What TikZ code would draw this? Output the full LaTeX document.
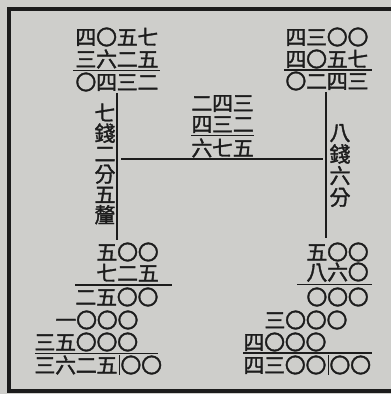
\documentclass[tikz,border=0pt]{standalone}
\usepackage{fontspec}
\usepackage{tikz}
\newfontfamily\cjk[FakeBold=1.6,LetterSpace=-1.5]{Noto Sans CJK TC}
\definecolor{paper}{RGB}{206,206,203}
\definecolor{ink}{RGB}{28,28,28}
\tikzset{
  num/.style={anchor=west, inner sep=0pt, text height=8.2pt, text depth=0.2pt,
    font=\cjk\fontsize{10.5}{10.5}\selectfont, text=ink},
  vtext/.style={inner sep=0pt, align=center, text=ink},
  rule/.style={draw=ink, line width=0.8pt},
  mainline/.style={draw=ink, line width=1pt},
  frame/.style={draw=ink, line width=1.6pt},
}

\begin{document}
\begin{tikzpicture}[x=0.5pt, y=-0.5pt]
  \fill[paper] (0,0) rectangle (391,394);
  \useasboundingbox (0,0) rectangle (391,394);
  % frame (right side cut off)
  \draw[frame] (391,9) -- (9,9) -- (9,391) -- (391,391);
  % number rows
  \foreach \nm/\cx/\cy/\txt in {
      ta/75/37/四〇五七, tb/75/59/三六二五, tc/75/82/〇四三二,
      ua/285/37/四三〇〇, ub/285/59/四〇五七, uc/285/81/〇二四三,
      ma/191/103/二四三, mb/191/124/四三二, mc/191/148/六七五,
      ba/96/252/五〇〇, bb/96/273/七二五, bc/75/297/二五〇〇,
      bd/55/320/一〇〇〇, be/34/342/三五〇〇〇,
      bf/34/365/三六二五, bg/120/365/〇〇,
      ca/306/252/五〇〇, cb/306/272/八六〇, cc/306/297/〇〇〇,
      cd/264/320/三〇〇〇, ce/243/342/四〇〇〇,
      cf/243/365/四三〇〇, cg/329/365/〇〇}{
    \node[num] (\nm) at (\cx,\cy) {\txt};
  }
  % vertical labels
  \node[vtext, font=\cjk\fontsize{10.5}{10.2}\selectfont] (left) at (105,164)
    {七\\錢\\二\\分\\五\\釐};
  \node[vtext, font=\cjk\fontsize{10.5}{10.8}\selectfont] (right) at (340,165.5)
    {八\\錢\\六\\分};
  % main lines
  \coordinate (lt) at (117,93);
  \coordinate (lb) at (117,240);
  \coordinate (rt) at (326,92);
  \coordinate (rb) at (326,238);
  \coordinate (hl) at (117,159);
  \coordinate (hr) at (326,159);
  \draw[mainline] (lt) -- (lb);
  \draw[mainline] (rt) -- (rb);
  \draw[mainline, shorten <=2pt, shorten >=1.5pt] (hl) -- (hr);
  % rules under the rows
  \foreach \xa/\xb/\ry in {73/160/70.5, 284/372/70, 191/254/135.5,
      75/172/285, 35/158/353.5, 297/372/284.5, 243/372/353}{
    \draw[rule] (\xa,\ry) -- (\xb,\ry);
  }
  % bars between the last rows' parts
  \draw[rule] (bf.east) ++(1.5,-10) -- ++(0,20);
  \draw[rule] (cf.east) ++(1.5,-10) -- ++(0,20);
\end{tikzpicture}
\end{document}
